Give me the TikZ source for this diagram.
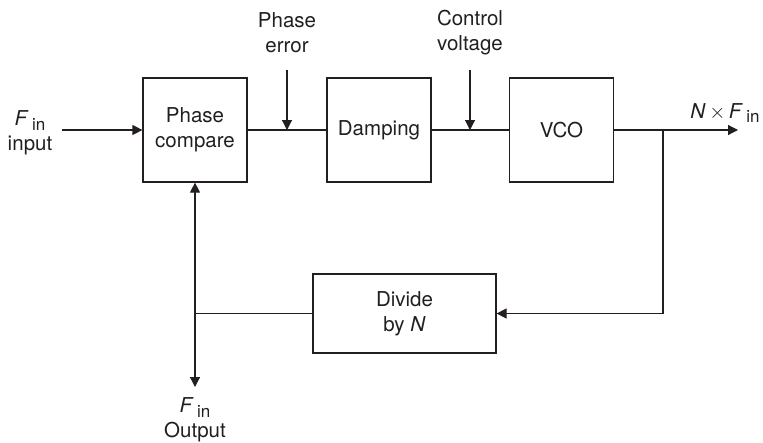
\documentclass[tikz,border=0pt]{standalone}
\usepackage{fontspec}
\setmainfont{TeX Gyre Heros}
\usetikzlibrary{arrows.meta,positioning}
\definecolor{ink}{HTML}{231F20}
\newcommand{\Fin}{\textit{F}\,\raisebox{-0.45ex}{\fontsize{17}{17}\selectfont in}}

\begin{document}
\begin{tikzpicture}[x=1pt,y=-1pt,
    ink,line width=1.2pt,
    font=\fontsize{20.5}{25}\selectfont,
    block/.style={draw,minimum width=104pt,minimum height=104pt,inner sep=0pt,align=center},
    lbl/.style={align=center,inner sep=0pt},
    >={Triangle[length=10pt,width=10pt]}]
  \useasboundingbox (0,0) rectangle (763,442);

  % forward path
  \node[block] (pc) at (195,130) {Phase\\compare};
  \node[block] (damp) at (379,130) {Damping};
  \node[block] (vco) at (561.5,130) {VCO};
  \node[block,minimum width=183pt,minimum height=79pt] (div) at (404.5,313.5) {Divide\\by \textit{N}};

  \coordinate (in) at (62,130);
  \coordinate (out) at (738,130);
  \coordinate (branch) at (663,130);
  \coordinate (pe) at (287,70);
  \coordinate (cv) at (470,70);
  \coordinate (tap) at (195,313.5);
  \coordinate (fout) at (195,387);

  \draw[->] (in) -- (pc.west);
  \draw (pc.east) -- (damp.west);
  \draw (damp.east) -- (vco.west);
  \draw[->] (vco.east) -- (out);
  \draw[->] (pe) -- (pe |- pc.east);
  \draw[->] (cv) -- (cv |- damp.east);

  % feedback path
  \draw[->] (branch) |- (div.east);
  \draw (div.west) -- (tap);
  \draw[->] (tap) -- (pc.south);
  \draw[->] (tap) -- (fout);

  % labels
  \node[lbl] (inlbl) at (30,133) {\Fin\\input};
  \node[lbl] (pelbl) at (287,33) {Phase\\error};
  \node[lbl] (cvlbl) at (470,33) {Control\\voltage};
  \node[lbl] (outlbl) at (725,113) {\textit{N}\,$\times$\,\Fin};
  \node[lbl] (foutlbl) at (195,420) {\Fin\\Output};
\end{tikzpicture}
\end{document}
